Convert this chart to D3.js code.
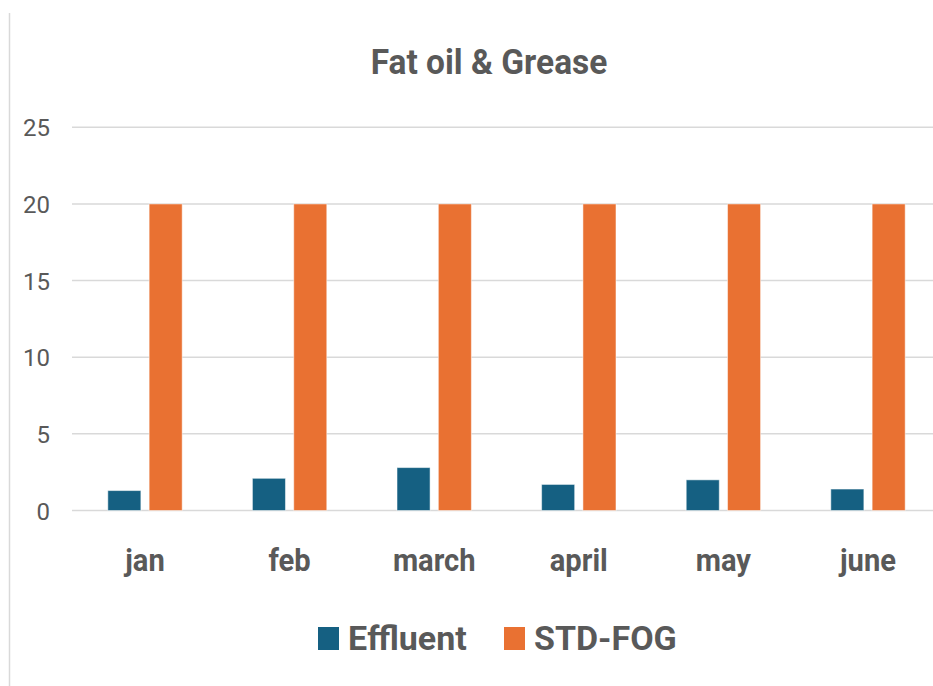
<!DOCTYPE html>
<html>
<head>
<meta charset="utf-8">
<script src="https://cdn.jsdelivr.net/npm/d3@7"></script>
<style>
  html, body { margin: 0; padding: 0; background: #fff; }
  text { font-family: Roboto, "Noto Sans", sans-serif; fill: #595959; }
</style>
</head>
<body>
<div id="chart"></div>
<script>
// chart data
var months = ["jan", "feb", "march", "april", "may", "june"];
var effluent = [1.3, 2.1, 2.8, 1.7, 2.0, 1.4];
var stdFog = [20, 20, 20, 20, 20, 20];
var seriesNames = ["Effluent", "STD-FOG"];
var seriesColors = ["#156082", "#E97132"];
var yTicks = [0, 5, 10, 15, 20, 25];

var svgWidth = 933;
var svgHeight = 686;

var svg = d3.select("#chart")
    .append("svg")
    .attr("width", svgWidth)
    .attr("height", svgHeight);

// left edge of the chart frame
svg.append("line")
    .attr("x1", 9.5).attr("x2", 9.5)
    .attr("y1", 13).attr("y2", svgHeight)
    .attr("stroke", "#d9d9d9")
    .attr("stroke-width", 1.5);

// title (squeezed a bit, the original font is narrower)
svg.append("g")
    .attr("transform", "translate(489,74)")
    .append("text")
    .attr("text-anchor", "middle")
    .attr("transform", "scale(0.93,1)")
    .style("font-size", "36px")
    .style("font-weight", "bold")
    .text("Fat oil & Grease");

// scales
var x0 = d3.scaleBand()
    .domain(months)
    .range([72.7, 940.3]);

var x1 = d3.scaleBand()
    .domain(seriesNames)
    .range([0, x0.bandwidth()])
    .paddingInner(0.2)
    .paddingOuter(0.85);

var y = d3.scaleLinear()
    .domain([0, 25])
    .range([510.5, 127.3]);

// gridlines
svg.append("g")
    .selectAll("line")
    .data(yTicks)
    .enter()
    .append("line")
    .attr("x1", 72)
    .attr("x2", svgWidth)
    .attr("y1", d => y(d))
    .attr("y2", d => y(d))
    .attr("stroke", "#d9d9d9")
    .attr("stroke-width", 1.5);

// y axis labels
var yAxis = d3.axisLeft(y)
    .tickValues(yTicks)
    .tickSize(0)
    .tickPadding(0);

svg.append("g")
    .attr("transform", "translate(50,0)")
    .call(yAxis)
    .call(g => g.select(".domain").remove())
    .selectAll("text")
    .attr("dy", "0.36em")
    .style("font-size", "24px")
    .style("fill", "#595959");

// bars
var rows = months.map((m, i) => ({ month: m, values: [effluent[i], stdFog[i]] }));

var groups = svg.append("g")
    .selectAll("g")
    .data(rows)
    .enter()
    .append("g")
    .attr("transform", d => `translate(${x0(d.month)},0)`);

groups.selectAll("rect")
    .data(d => d.values.map((v, j) => ({ name: seriesNames[j], value: v, color: seriesColors[j] })))
    .enter()
    .append("rect")
    .attr("x", d => x1(d.name))
    .attr("width", x1.bandwidth())
    .attr("y", d => y(d.value))
    .attr("height", d => y(0) - y(d.value))
    .attr("fill", d => d.color)
    .attr("stroke", "#ffffff")
    .attr("stroke-opacity", 0.5)
    .attr("stroke-width", 1);

// category labels
var xAxis = d3.axisBottom(x0)
    .tickSize(0)
    .tickPadding(0);

svg.append("g")
    .attr("transform", "translate(0,571)")
    .call(xAxis)
    .call(g => g.select(".domain").remove())
    .selectAll("text")
    .attr("y", 0)
    .attr("dy", 0)
    .attr("transform", "scale(0.91,1)")
    .style("font-size", "32px")
    .style("font-weight", "bold")
    .style("fill", "#595959");

// legend
var legendX = [318, 504];
var legend = svg.append("g")
    .selectAll("g")
    .data(seriesNames)
    .enter()
    .append("g")
    .attr("transform", (d, i) => `translate(${legendX[i]},627)`);

legend.append("rect")
    .attr("width", 21)
    .attr("height", 23)
    .attr("fill", (d, i) => seriesColors[i]);

legend.append("text")
    .attr("x", 30)
    .attr("y", 23)
    .style("font-size", "34px")
    .style("font-weight", "bold")
    .text(d => d);
</script>
</body>
</html>
